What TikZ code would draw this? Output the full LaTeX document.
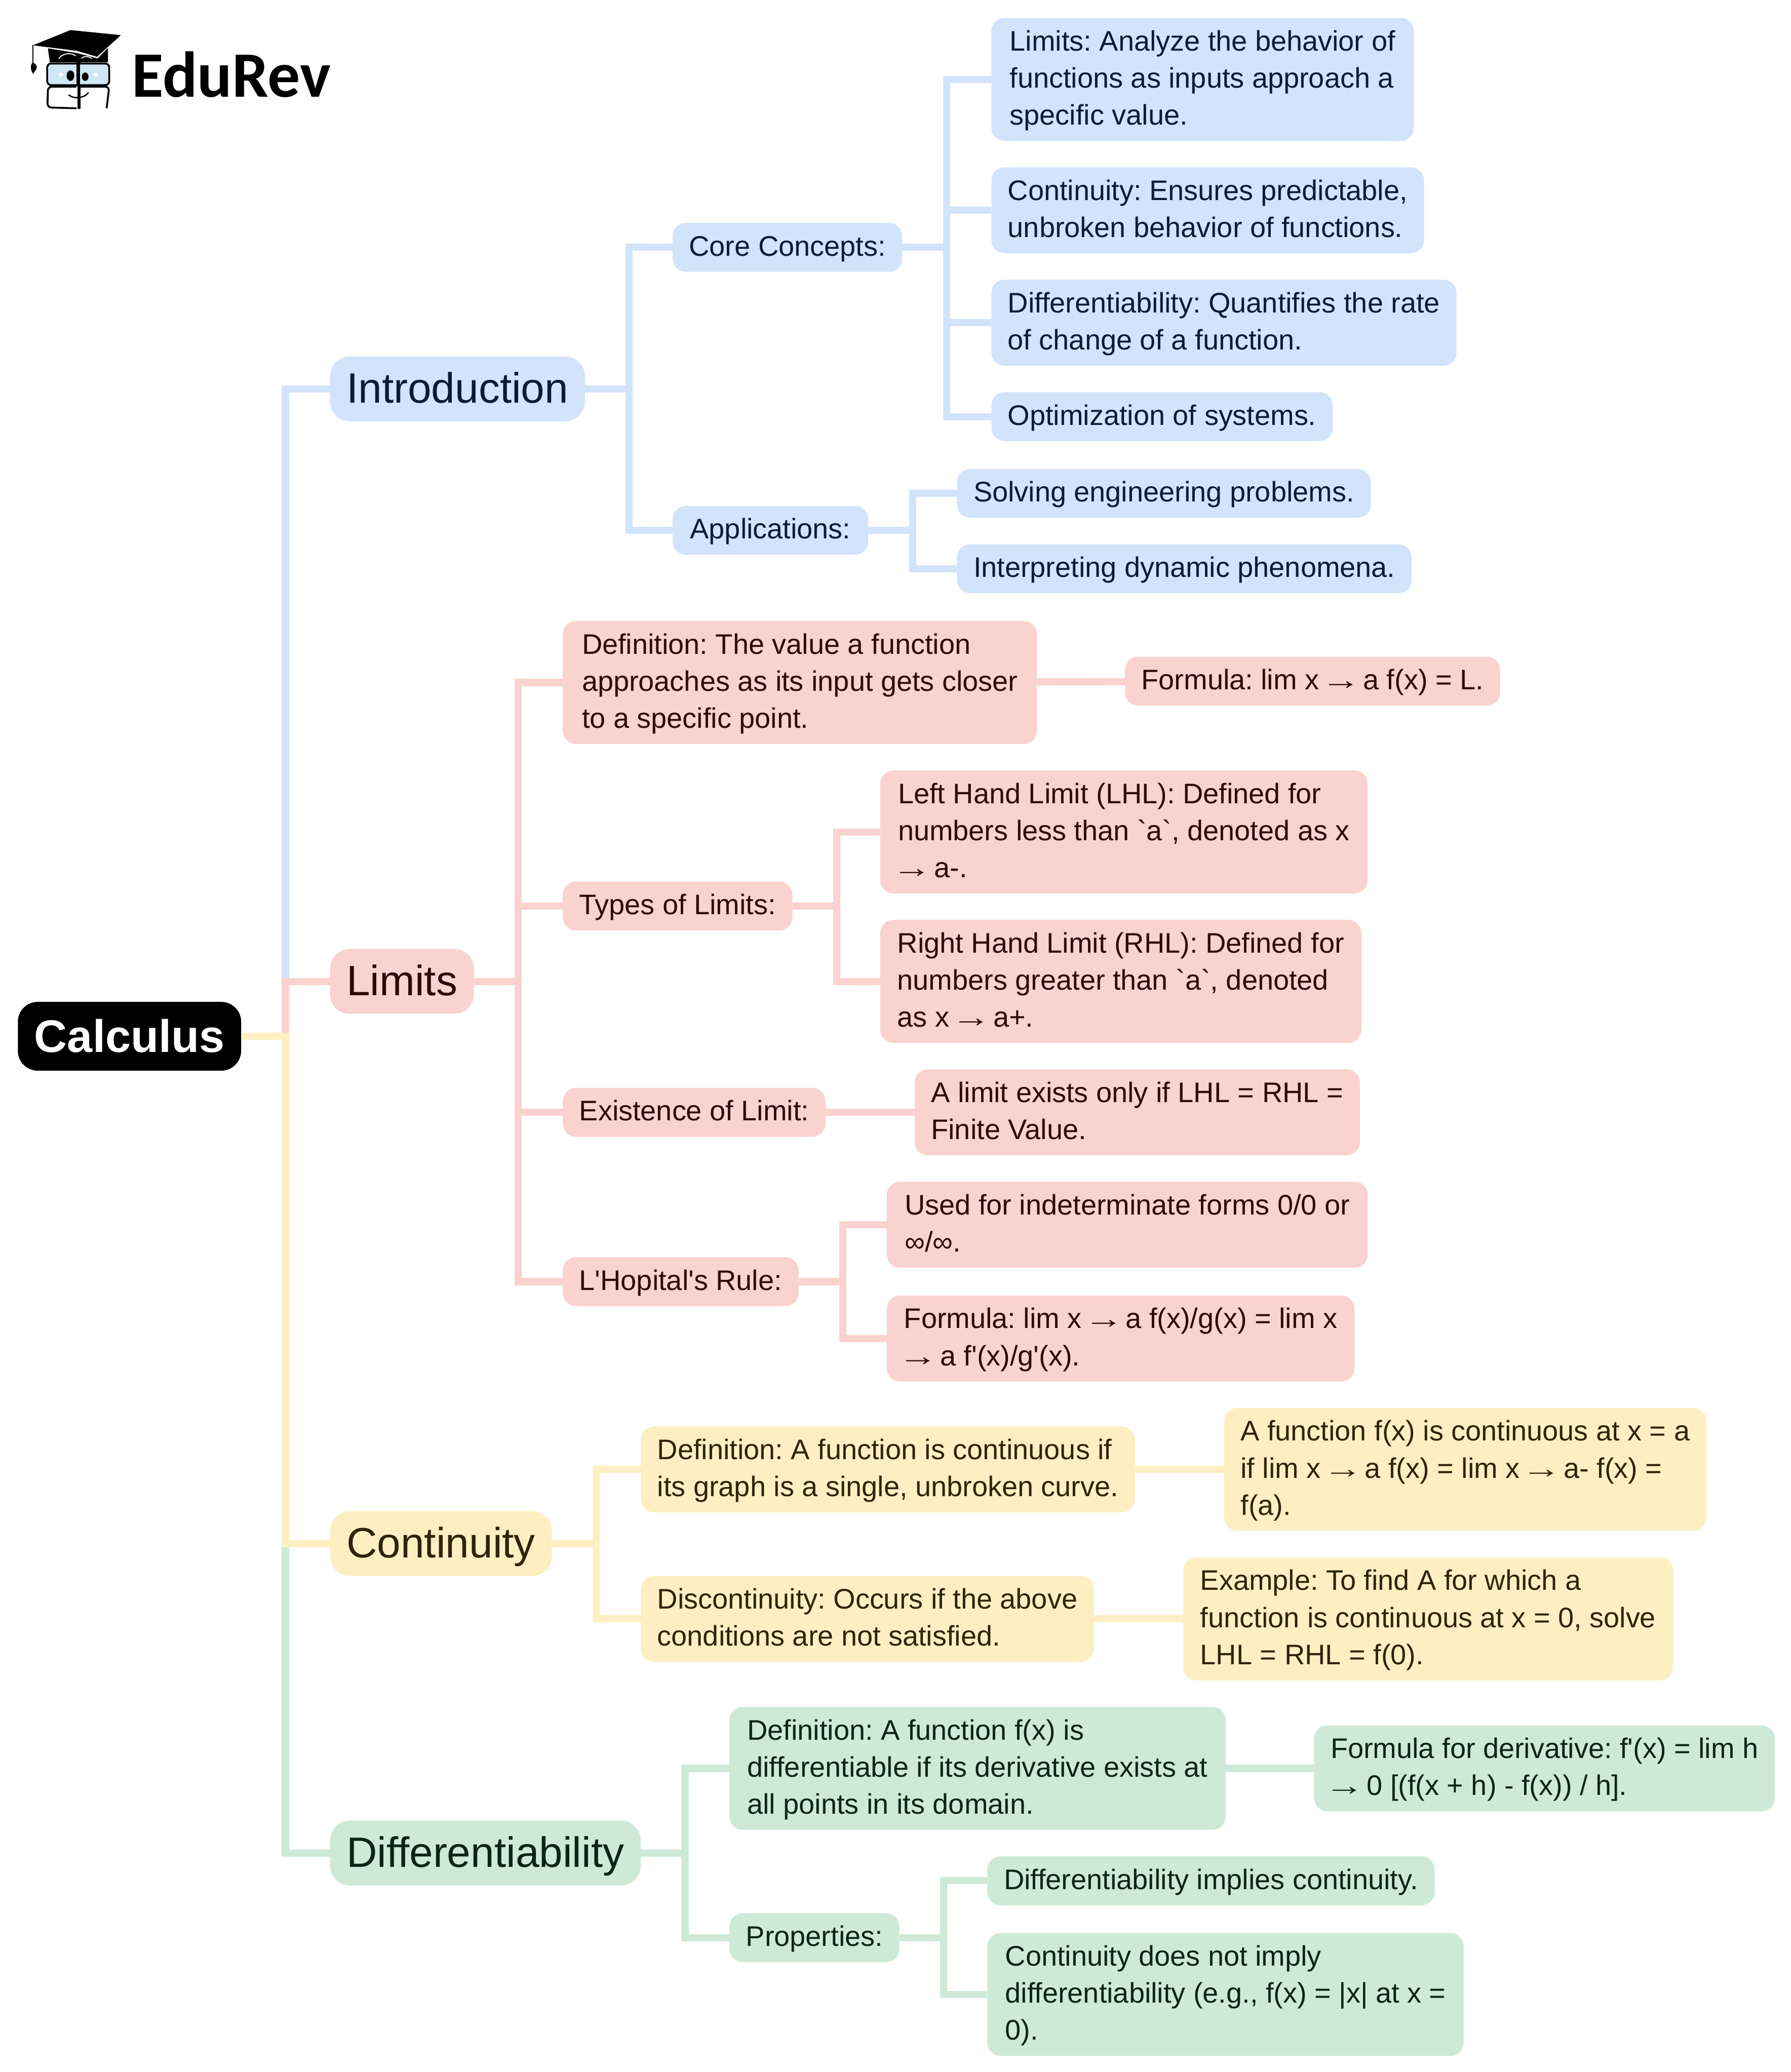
\documentclass[tikz,border=0pt]{standalone}
\usepackage{fontspec}
\usepackage{tikz}
\newfontfamily\mapfont{Liberation Sans}
\newfontfamily\logofont{Carlito}
\definecolor{blueFill}{HTML}{D2E3FC}
\definecolor{redFill}{HTML}{FAD2CF}
\definecolor{yellowFill}{HTML}{FEEFC3}
\definecolor{greenFill}{HTML}{CEEAD6}
\definecolor{blueText}{HTML}{0A1A38}
\definecolor{redText}{HTML}{300808}
\definecolor{yellowText}{HTML}{2E2408}
\definecolor{greenText}{HTML}{0C2416}
\definecolor{lensBlue}{HTML}{CFE6F5}
\newcommand{\firstline}{\rule[-7.6pt]{0pt}{28pt}}
\newcommand{\toarrow}{\makebox[1em][c]{\scalebox{1.4}[1]{→}}}
\tikzset{
    base/.style={anchor=north west, outer sep=0pt, inner xsep=12.5pt, align=left},
    struted/.style 2 args={execute at begin node={\rule[-#1pt]{0pt}{#2pt}}, execute at end node={\rule[-#1pt]{0pt}{#2pt}}},
    leaf/.style={base, font=\fontsize{21.4}{28}\mapfont\frenchspacing, inner ysep=4.5pt, rounded corners=10pt, struted={7.6}{28}},
    branch/.style={base, font=\fontsize{32.1}{38}\mapfont, inner ysep=5.5pt, rounded corners=15pt, struted={8.3}{38}},
    blueNode/.style={fill=blueFill, text=blueText},
    redNode/.style={fill=redFill, text=redText},
    yellowNode/.style={fill=yellowFill, text=yellowText},
    greenNode/.style={fill=greenFill, text=greenText},
    link/.style={line width=5.4pt},
    elbow/.style={to path={(\tikztostart.east) -- ++(33.5,0) |- (\tikztotarget.west)}},
}
\begin{document}
\begin{tikzpicture}[x=1pt, y=-1pt]
    \useasboundingbox (0.5,0.5) rectangle (1354.5,1567.1);
    \fill [white] (0.5,0.5) rectangle (1354.5,1567.1);

    % Logo
    \begin{scope}[x=0.1955pt, y=-0.1277pt]
        \fill (275,182) -- (470,212) -- (378,340) -- (300,305) -- (130,272) -- cycle;
        \draw [line width=1pt] (130,272) -- (130,380);
        \fill (122,405) .. controls (122,385) and (126,378) .. (130,375) .. controls (140,380) and (146,395) .. (145,405) .. controls (142,420) and (134,430) .. (130,442) .. controls (128,430) and (122,420) .. (122,405) -- cycle;
        \fill (188,290) -- (300,318) -- (380,350) -- (420,288) -- (420,372) -- (195,372) -- cycle;
        \draw [white, line width=0.7pt] (230,352) .. controls (240,320) and (280,312) .. (295,335);
        \draw [white, line width=0.7pt] (318,350) .. controls (325,335) and (345,335) .. (358,352);
        \draw [fill=lensBlue, line width=1.4pt, rounded corners=3pt] (185,380) rectangle (425,508);
        \fill (298,372) rectangle (312,512);
        \fill (275,452) ellipse [x radius=15, y radius=31];
        \fill (332,458) ellipse [x radius=13, y radius=25];
        \fill [white] (238,445) ellipse [x radius=9, y radius=12];
        \fill [white] (372,445) ellipse [x radius=9, y radius=12];
        \draw [line width=1.4pt, rounded corners=3pt] (298,517) -- (188,517) -- (186,640) -- (298,645);
        \draw [line width=1.4pt, rounded corners=3pt] (312,517) -- (425,517) -- (415,645);
        \fill (302,515) rectangle (314,650);
        \draw [line width=1pt] (268,565) .. controls (285,590) and (325,590) .. (345,552);
    \end{scope}
    \node [anchor=base west, inner sep=0pt, font=\fontsize{49}{50}\logofont\bfseries] (logotext) at (100,74) {EduRev};

    % Nodes
    \node [base, fill=black, text=white, font=\fontsize{34.5}{40}\mapfont\bfseries, inner ysep=6pt, rounded corners=15pt, struted={8}{40}] (calculus) at (14,758) {Calculus};

    \node [branch, blueNode] (intro) at (250,270) {Introduction};
    \node [leaf, blueNode] (core) at (509,169) {Core Concepts:};
    \node [leaf, blueNode, inner xsep=14pt] (limdef) at (750,14) {\firstline Limits: Analyze the behavior of\\functions as inputs approach a\\specific value.};
    \node [leaf, blueNode] (contdef) at (750,127) {\firstline Continuity: Ensures predictable,\\unbroken behavior of functions.};
    \node [leaf, blueNode] (diffdef) at (750,212) {\firstline Differentiability: Quantifies the rate\\of change of a function.};
    \node [leaf, blueNode] (optim) at (750,297) {Optimization of systems.};
    \node [leaf, blueNode, inner xsep=13.3pt] (apps) at (509,383) {Applications:};
    \node [leaf, blueNode] (solving) at (724,355) {Solving engineering problems.};
    \node [leaf, blueNode] (interp) at (724,412) {Interpreting dynamic phenomena.};

    \node [branch, redNode] (limits) at (250,718) {Limits};
    \node [leaf, redNode, inner xsep=14.5pt] (ldef) at (426,470) {\firstline Definition: The value a function\\approaches as its input gets closer\\to a specific point.};
    \node [leaf, redNode] (lformula) at (851,497) {Formula: lim x \toarrow{} a f(x) = L.};
    \node [leaf, redNode] (types) at (426,667) {Types of Limits:};
    \node [leaf, redNode, inner xsep=13.5pt] (lhl) at (666,583) {\firstline Left Hand Limit (LHL): Defined for\\numbers less than `a`, denoted as x\\\toarrow{} a-.};
    \node [leaf, redNode, inner xsep=13pt] (rhl) at (666,696) {\firstline Right Hand Limit (RHL): Defined for\\numbers greater than `a`, denoted\\as x \toarrow{} a+.};
    \node [leaf, redNode] (exist) at (426,823) {Existence of Limit:};
    \node [leaf, redNode] (existval) at (692,809) {\firstline A limit exists only if LHL = RHL =\\Finite Value.};
    \node [leaf, redNode] (hopital) at (426,951) {L'Hopital's Rule:};
    \node [leaf, redNode, inner xsep=13.5pt] (forms) at (671,894) {\firstline Used for indeterminate forms 0/0 or\\∞/∞.};
    \node [leaf, redNode, inner xsep=13pt] (hformula) at (671,980) {\firstline Formula: lim x \toarrow{} a f(x)/g(x) = lim x\\\toarrow{} a f'(x)/g'(x).};

    \node [branch, yellowNode] (cont) at (250,1143) {Continuity};
    \node [leaf, yellowNode] (cdef) at (485,1079) {\firstline Definition: A function is continuous if\\its graph is a single, unbroken curve.};
    \node [leaf, yellowNode] (cformula) at (926,1065) {\firstline A function f(x) is continuous at x = a\\if lim x \toarrow{} a f(x) = lim x \toarrow{} a- f(x) =\\f(a).};
    \node [leaf, yellowNode] (disc) at (485,1192) {\firstline Discontinuity: Occurs if the above\\conditions are not satisfied.};
    \node [leaf, yellowNode, inner xsep=13pt] (example) at (895,1178) {\firstline Example: To find A for which a\\function is continuous at x = 0, solve\\LHL = RHL = f(0).};

    \node [branch, greenNode] (diff) at (250,1377) {Differentiability};
    \node [leaf, greenNode, inner xsep=13.5pt] (ddef) at (552,1291) {\firstline Definition: A function f(x) is\\differentiable if its derivative exists at\\all points in its domain.};
    \node [leaf, greenNode] (dformula) at (994,1305) {\firstline Formula for derivative: f'(x) = lim h\\\toarrow{} 0 [(f(x + h) - f(x)) / h].};
    \node [leaf, greenNode] (props) at (552,1447) {Properties:};
    \node [leaf, greenNode] (implies) at (747,1404) {Differentiability implies continuity.};
    \node [leaf, greenNode, inner xsep=13.5pt] (notimply) at (747,1462) {\firstline Continuity does not imply\\differentiability (e.g., f(x) = |x| at x =\\0).};

    % Paths
    \path [link, greenFill] (calculus) edge [elbow] (diff);
    \path [link, blueFill] (calculus) edge [elbow] (intro);
    \path [link, redFill] (calculus) edge [elbow] (limits);
    \path [link, yellowFill] (calculus) edge [elbow] (cont);

    \path [link, blueFill] (intro) edge [elbow] (core);
    \path [link, blueFill] (intro) edge [elbow] (apps);
    \path [link, blueFill] (core) edge [elbow] (limdef);
    \path [link, blueFill] (core) edge [elbow] (contdef);
    \path [link, blueFill] (core) edge [elbow] (diffdef);
    \path [link, blueFill] (core) edge [elbow] (optim);
    \path [link, blueFill] (apps) edge [elbow] (solving);
    \path [link, blueFill] (apps) edge [elbow] (interp);

    \path [link, redFill] (limits) edge [elbow] (ldef);
    \path [link, redFill] (limits) edge [elbow] (types);
    \path [link, redFill] (limits) edge [elbow] (exist);
    \path [link, redFill] (limits) edge [elbow] (hopital);
    \path [link, redFill] (ldef) edge (lformula);
    \path [link, redFill] (types) edge [elbow] (lhl);
    \path [link, redFill] (types) edge [elbow] (rhl);
    \path [link, redFill] (exist) edge (existval);
    \path [link, redFill] (hopital) edge [elbow] (forms);
    \path [link, redFill] (hopital) edge [elbow] (hformula);

    \path [link, yellowFill] (cont) edge [elbow] (cdef);
    \path [link, yellowFill] (cont) edge [elbow] (disc);
    \path [link, yellowFill] (cdef) edge (cformula);
    \path [link, yellowFill] (disc) edge (example);

    \path [link, greenFill] (diff) edge [elbow] (ddef);
    \path [link, greenFill] (diff) edge [elbow] (props);
    \path [link, greenFill] (ddef) edge (dformula);
    \path [link, greenFill] (props) edge [elbow] (implies);
    \path [link, greenFill] (props) edge [elbow] (notimply);
\end{tikzpicture}
\end{document}
